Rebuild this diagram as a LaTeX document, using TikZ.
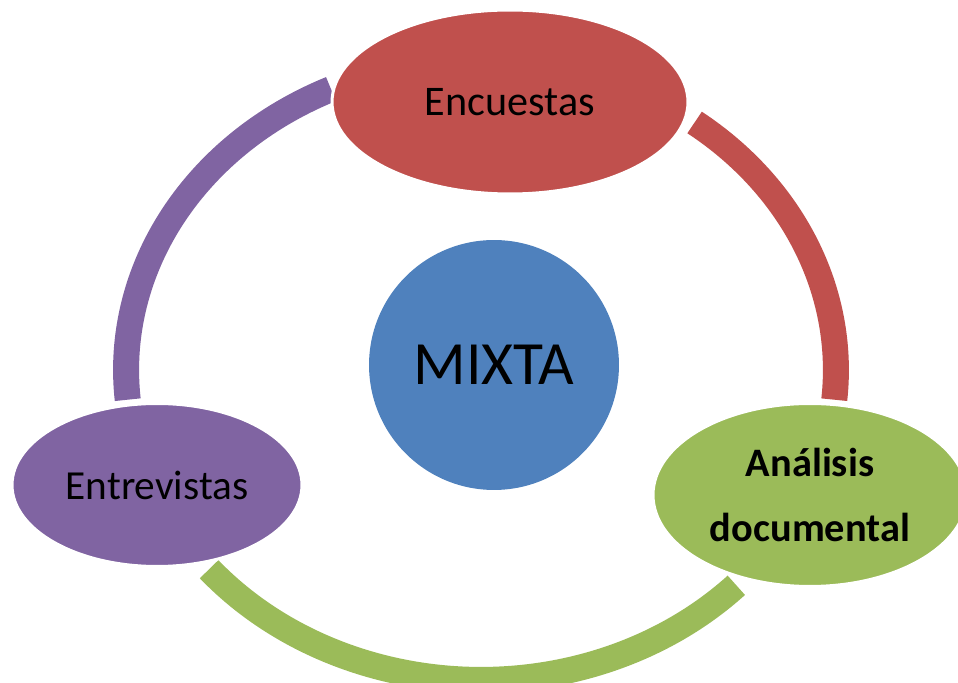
\documentclass[tikz,border=0pt]{standalone}
\usepackage{fontspec}
\setmainfont{Carlito}
\usetikzlibrary{shapes.geometric}
\definecolor{encred}{HTML}{C0504D}
\definecolor{entpurple}{HTML}{8064A2}
\definecolor{anagreen}{HTML}{9BBB59}
\definecolor{mixblue}{HTML}{4F81BD}
\begin{document}
\begin{tikzpicture}
			[x=0.02cm,y=0.02cm,
			every ellipse node/.style={draw=white,line width=1.7pt,inner sep=0pt},
			ringarc/.style={line width=0.52cm}]
			\useasboundingbox (0,0) rectangle (958,683);
			\coordinate (ring) at (481,313);
			\draw[ringarc,entpurple] (ring) ++(115:7.1cm and 6.2cm)
			arc[start angle=115,end angle=185.5,x radius=7.1cm,y radius=6.2cm];
			\draw[ringarc,encred] (ring) ++(53:7.1cm and 6.2cm)
			arc[start angle=53,end angle=-5.5,x radius=7.1cm,y radius=6.2cm];
			\draw[ringarc,anagreen] (ring) ++(220:7.1cm and 6.2cm)
			arc[start angle=220,end angle=316,x radius=7.1cm,y radius=6.2cm];
			\node[ellipse,fill=encred,minimum width=7.12cm,minimum height=3.68cm,
			font=\fontsize{24}{29}\selectfont] (enc) at (510,581) {Encuestas};
			\node[ellipse,fill=entpurple,minimum width=5.8cm,minimum height=3.26cm,
			font=\fontsize{23.5}{28}\selectfont] (ent) at (157,198) {Entrevistas};
			\node[ellipse,fill=anagreen,minimum width=6.28cm,minimum height=3.66cm,
			align=center,font=\fontsize{23}{37}\selectfont\bfseries] (ana) at (810,188)
			{Análisis\\documental};
			\node[circle,fill=mixblue,minimum size=5cm,inner sep=0pt,
			font=\fontsize{35}{42}\selectfont] (mix) at (494,318) {MIXTA};
		\end{tikzpicture}
\end{document}
